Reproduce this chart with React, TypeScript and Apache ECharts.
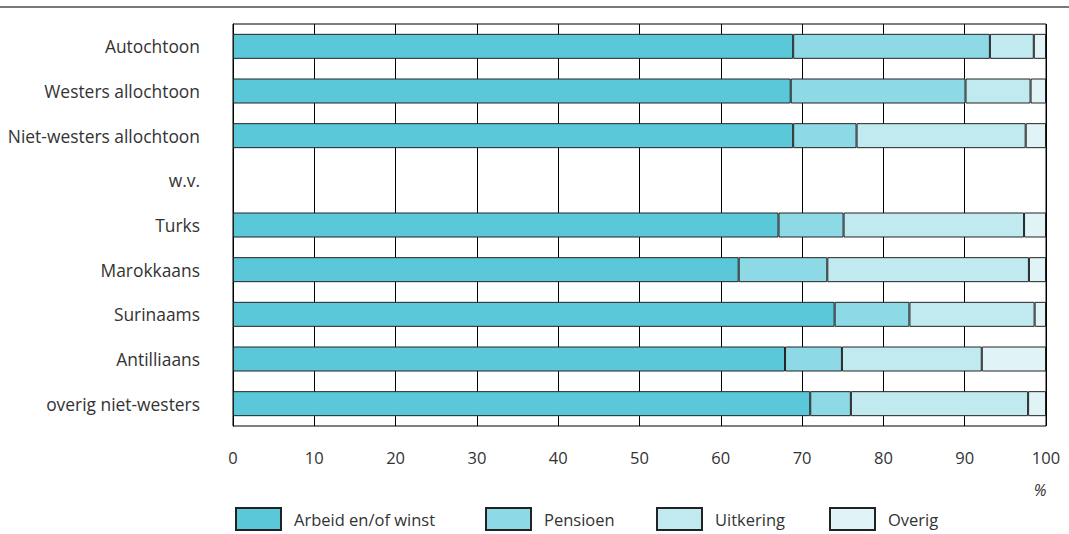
import React, { useEffect, useRef } from "react";
import * as echarts from "echarts";

const categories = [
  "Autochtoon",
  "Westers allochtoon",
  "Niet-westers allochtoon",
  "w.v.",
  "Turks",
  "Marokkaans",
  "Surinaams",
  "Antilliaans",
  "overig niet-westers",
];

const arbeid = [68.9, 68.6, 68.9, null, 67.1, 62.2, 74.0, 67.9, 71.0];
const pensioen = [24.2, 21.5, 7.8, null, 8.0, 10.9, 9.2, 7.0, 5.0];
const uitkering = [5.4, 8.0, 20.8, null, 22.2, 24.8, 15.4, 17.2, 21.8];
const overig = [1.5, 1.9, 2.5, null, 2.7, 2.1, 1.4, 7.9, 2.2];

const seriesNames = ["Arbeid en/of winst", "Pensioen", "Uitkering", "Overig"];
const seriesColors = ["#5bc8da", "#8ed9e6", "#c0eaf0", "#e0f4f7"];
const xTicks = [0, 10, 20, 30, 40, 50, 60, 70, 80, 90, 100];

const FONT = "'Open Sans', 'Noto Sans', sans-serif";

export default function App() {
  const ref = useRef<HTMLDivElement>(null);
  useEffect(() => {
    if (!ref.current) return;
    const chart = echarts.init(ref.current, null, { renderer: "svg" });
    const data = [arbeid, pensioen, uitkering, overig];
    const legendLefts = [235, 485, 656, 829];
    chart.setOption({
      animation: false,
      textStyle: { fontFamily: FONT },
      grid: {
        left: 233,
        right: 23,
        top: 24,
        bottom: 108,
        show: true,
        borderColor: "#000",
        borderWidth: 1,
        backgroundColor: "transparent",
      },
      xAxis: {
        type: "value",
        min: xTicks[0],
        max: xTicks[xTicks.length - 1],
        interval: 10,
        axisLine: { show: false },
        axisTick: { show: false },
        splitLine: { show: true, lineStyle: { color: "#000", width: 1 } },
        axisLabel: { fontSize: 16.5, color: "#333", margin: 23, fontFamily: FONT },
      },
      yAxis: {
        type: "category",
        inverse: true,
        data: categories,
        axisLine: { show: true, lineStyle: { color: "#000", width: 1 } },
        axisTick: { show: false },
        splitLine: { show: false },
        axisLabel: { fontSize: 17.4, color: "#333", margin: 33, fontFamily: FONT },
      },
      legend: seriesNames.map((n, i) => ({
        data: [n],
        left: legendLefts[i],
        top: 507,
        padding: 0,
        icon: "rect",
        itemWidth: 45,
        itemHeight: 22,
        selectedMode: false,
        textStyle: { fontSize: 16.5, color: "#333", fontFamily: FONT, padding: [0, 0, 0, 8] },
      })),
      series: seriesNames.map((n, i) => ({
        name: n,
        type: "bar",
        stack: "total",
        data: data[i],
        barWidth: 25,
        itemStyle: { color: seriesColors[i], borderColor: "#222", borderWidth: 1 },
      })),
      graphic: [
        {
          type: "line",
          shape: { x1: 0, y1: 7, x2: 1069, y2: 7 },
          style: { stroke: "#7a7a7a", lineWidth: 2 },
        },
        {
          type: "text",
          x: 1040,
          y: 490,
          style: {
            text: "%",
            fontSize: 16,
            fontStyle: "italic",
            fill: "#333",
            fontFamily: FONT,
            textAlign: "center",
            textVerticalAlign: "middle",
          },
        },
      ],
    });
    return () => chart.dispose();
  }, []);
  return (
    <div
      ref={ref}
      style={{ position: "fixed", left: 0, top: 0, width: 1069, height: 534, background: "#fff" }}
    />
  );
}
